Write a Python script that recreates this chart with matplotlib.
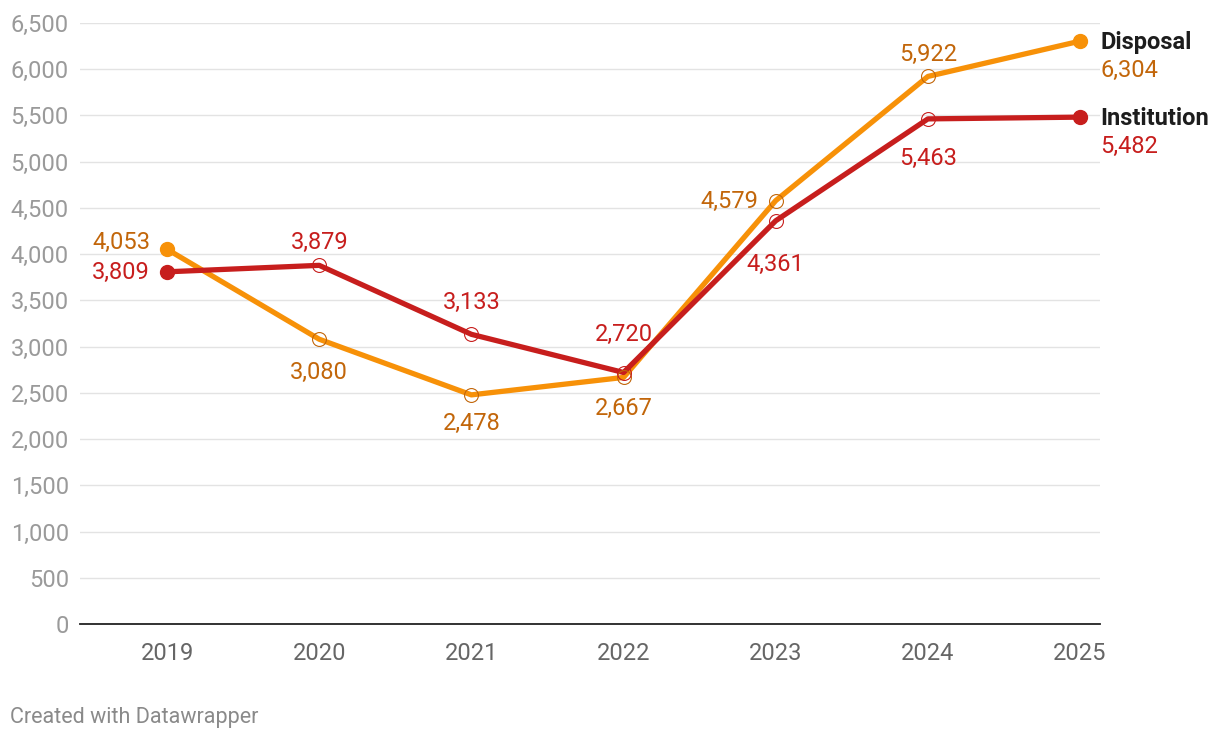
import numpy as np
import matplotlib.pyplot as plt

plt.rcParams['font.family'] = ['Roboto', 'DejaVu Sans']

years = [2019, 2020, 2021, 2022, 2023, 2024, 2025]
disposal = [4053, 3080, 2478, 2667, 4579, 5922, 6304]
institution = [3809, 3879, 3133, 2720, 4361, 5463, 5482]

# label offsets in pixels (dx, dy) from the point; None = right-hand legend label
disposal_off = [(-17, 8), (0, -32), (0, -28), (0, -30), (-17, 0), (0, 23), None]
institution_off = [(-17, 0), (0, 24), (0, 33), (0, 39), (0, -43), (0, -39), None]

yticks = np.arange(0, 6501, 500)

fig = plt.figure(figsize=(12.2, 7.4), dpi=100)
ax = fig.add_axes([80 / 1220, 116 / 740, 1020 / 1220, 601 / 740])

series = [
    ('Disposal', disposal, disposal_off, '#f79108', '#c2660a'),
    ('Institution', institution, institution_off, '#c71e1d', '#c71e1d'),
]

for name, vals, offs, col, tcol in series:
    ax.plot(years, vals, color=col, lw=3.8, solid_capstyle='round', zorder=3)
    ax.plot(years[1:-1], vals[1:-1], 'o', ms=10, mfc='none', mec=tcol,
            mew=0.8, zorder=4)
    ax.plot([years[0], years[-1]], [vals[0], vals[-1]], 'o', ms=10,
            color=col, zorder=4)
    for x, v, off in zip(years, vals, offs):
        if off is None:
            ax.annotate(name, (x, v), xytext=(20, -1), textcoords='offset pixels',
                        ha='left', va='center', fontsize=17, fontweight='bold',
                        color='#1d1d1d', annotation_clip=False)
            ax.annotate(f'{v:,}', (x, v), xytext=(20, -29), textcoords='offset pixels',
                        ha='left', va='center', fontsize=17, color=tcol,
                        annotation_clip=False)
            continue
        dx, dy = off
        ha = 'right' if dx < 0 else 'center'
        ax.annotate(f'{v:,}', (x, v), xytext=(dx, dy - 1), textcoords='offset pixels',
                    ha=ha, va='center', fontsize=17, color=tcol,
                    annotation_clip=False)

ax.set_xlim(2018.428, 2025.131)
ax.set_ylim(0, 6500)
ax.set_yticks(yticks)
ax.set_yticklabels([f'{t:,}' for t in yticks])
ax.set_xticks(years)
ax.set_xticklabels([str(y) for y in years])
ax.grid(axis='y', color='#e3e3e3', lw=1)
ax.set_axisbelow(True)
for s in ['top', 'right', 'left']:
    ax.spines[s].set_visible(False)
ax.spines['bottom'].set_color('#222222')
ax.spines['bottom'].set_linewidth(1.3)
ax.tick_params(axis='y', length=0, pad=8, labelsize=17, labelcolor='#9a9a9a')
ax.tick_params(axis='x', length=0, pad=13, labelsize=17, labelcolor='#666666')

fig.text(10 / 1220, 1 - 717 / 740, 'Created with Datawrapper', fontsize=15.5,
         color='#8a8a8a', ha='left', va='center')

fig.savefig('out.png', dpi=100)
